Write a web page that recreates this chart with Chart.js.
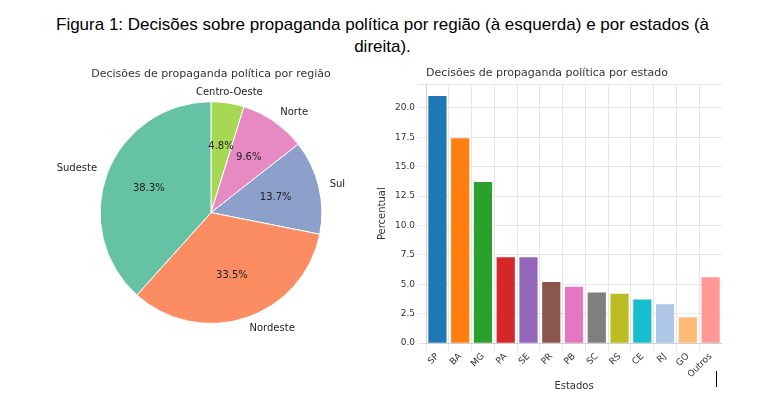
<!DOCTYPE html>
<html><head><meta charset="utf-8">
<script src="https://cdn.jsdelivr.net/npm/chart.js@4"></script>
<style>
body{margin:0;background:#fff;font-family:"Liberation Sans",Arial,sans-serif;}
#title{position:absolute;left:0;top:14px;width:765px;text-align:center;font-size:17px;line-height:22px;color:#000;}
#pieBox{position:absolute;left:30px;top:68px;width:362px;height:276px;}
#barBox{position:absolute;left:372px;top:67px;width:350px;height:325px;}
#cursor{position:absolute;left:716px;top:371px;width:1px;height:16px;background:#000;}
</style></head><body>
<div id="title">Figura 1: Decisões sobre propaganda política por região (à esquerda) e por estados (à<br>direita).</div>
<div id="pieBox"><canvas id="pieChart"></canvas></div>
<div id="barBox"><canvas id="barChart"></canvas></div>
<div id="cursor"></div>
<script>
const regioes = {
	"Centro-Oeste": 4.8,
	"Norte": 9.6,
	"Sul": 13.7,
	"Nordeste": 33.5,
	"Sudeste": 38.3
};
const coresRegiao = ["#a6d854", "#e78ac3", "#8da0cb", "#fc8d62", "#66c2a5"];

const estados = {
	SP: 21.0, BA: 17.4, MG: 13.7, PA: 7.3, SE: 7.3, PR: 5.2, PB: 4.8,
	SC: 4.3, RS: 4.2, CE: 3.7, RJ: 3.3, GO: 2.2, Outros: 5.6
};
const coresEstado = ["#1f77b4", "#ff7f0e", "#2ca02c", "#d62728", "#9467bd", "#8c564b", "#e377c2",
	"#7f7f7f", "#bcbd22", "#17becf", "#aec7e8", "#ffbb78", "#ff9896"];

const font = "DejaVu Sans";

// labels inside and outside the slices
const pieLabels = {
	id: "pieLabels",
	afterDatasetsDraw(chart) {
		const ctx = chart.ctx;
		const arcs = chart.getDatasetMeta(0).data;
		const labels = chart.data.labels;
		const vals = chart.data.datasets[0].data;
		ctx.save();
		ctx.font = "10px '" + font + "'";
		ctx.fillStyle = "#222";
		ctx.textBaseline = "middle";
		arcs.forEach((a, i) => {
			const mid = (a.startAngle + a.endAngle) / 2;
			const r = a.outerRadius;
			ctx.textAlign = "center";
			ctx.fillText(vals[i].toFixed(1) + "%", a.x + Math.cos(mid) * r * 0.6, a.y + Math.sin(mid) * r * 0.6);
			const lx = a.x + Math.cos(mid) * r * 1.1, ly = a.y + Math.sin(mid) * r * 1.1;
			ctx.textAlign = Math.cos(mid) >= 0 ? "left" : "right";
			if (Math.abs(Math.cos(mid)) < 0.3) ctx.textAlign = "center";
			ctx.fillText(labels[i], lx, ly);
		});
		ctx.restore();
	}
};

new Chart(document.getElementById("pieChart"), {
	type: "pie",
	data: {
		labels: Object.keys(regioes),
		datasets: [{
			data: Object.values(regioes),
			backgroundColor: coresRegiao,
			borderColor: "#fff",
			borderWidth: 1
		}]
	},
	options: {
		responsive: true,
		maintainAspectRatio: false,
		animation: false,
		layout: { padding: { top: 0, bottom: 20, left: 60, right: 60 } },
		plugins: {
			legend: { display: false },
			tooltip: { enabled: false },
			title: {
				display: true,
				text: "Decisões de propaganda política por região",
				color: "#333",
				font: { family: font, size: 11, weight: "normal" },
				padding: { top: 0, bottom: 20 }
			}
		}
	},
	plugins: [pieLabels]
});

new Chart(document.getElementById("barChart"), {
	type: "bar",
	data: {
		labels: Object.keys(estados),
		datasets: [{
			label: "Percentual",
			data: Object.values(estados),
			backgroundColor: coresEstado,
			barPercentage: 0.8,
			categoryPercentage: 1
		}]
	},
	options: {
		responsive: true,
		maintainAspectRatio: false,
		animation: false,
		plugins: {
			legend: { display: false },
			tooltip: { enabled: false },
			title: {
				display: true,
				text: "Decisões de propaganda política por estado",
				color: "#333",
				font: { family: font, size: 11, weight: "normal" },
				padding: { top: 0, bottom: 4 }
			}
		},
		scales: {
			x: {
				grid: { color: "#e6e6e6" },
				ticks: { color: "#333", font: { family: font, size: 9 }, maxRotation: 45, minRotation: 45, autoSkip: false, padding: 0 },
				title: { display: true, text: "Estados", color: "#333", font: { family: font, size: 10 }, padding: 0 }
			},
			y: {
				min: 0, max: 22,
				grid: { color: "#e6e6e6" },
				ticks: { stepSize: 2.5, color: "#333", font: { family: font, size: 9 }, callback: v => v > 21 ? "" : v.toFixed(1) },
				title: { display: true, text: "Percentual", color: "#333", font: { family: font, size: 10 } }
			}
		}
	}
});
</script>
</body></html>
